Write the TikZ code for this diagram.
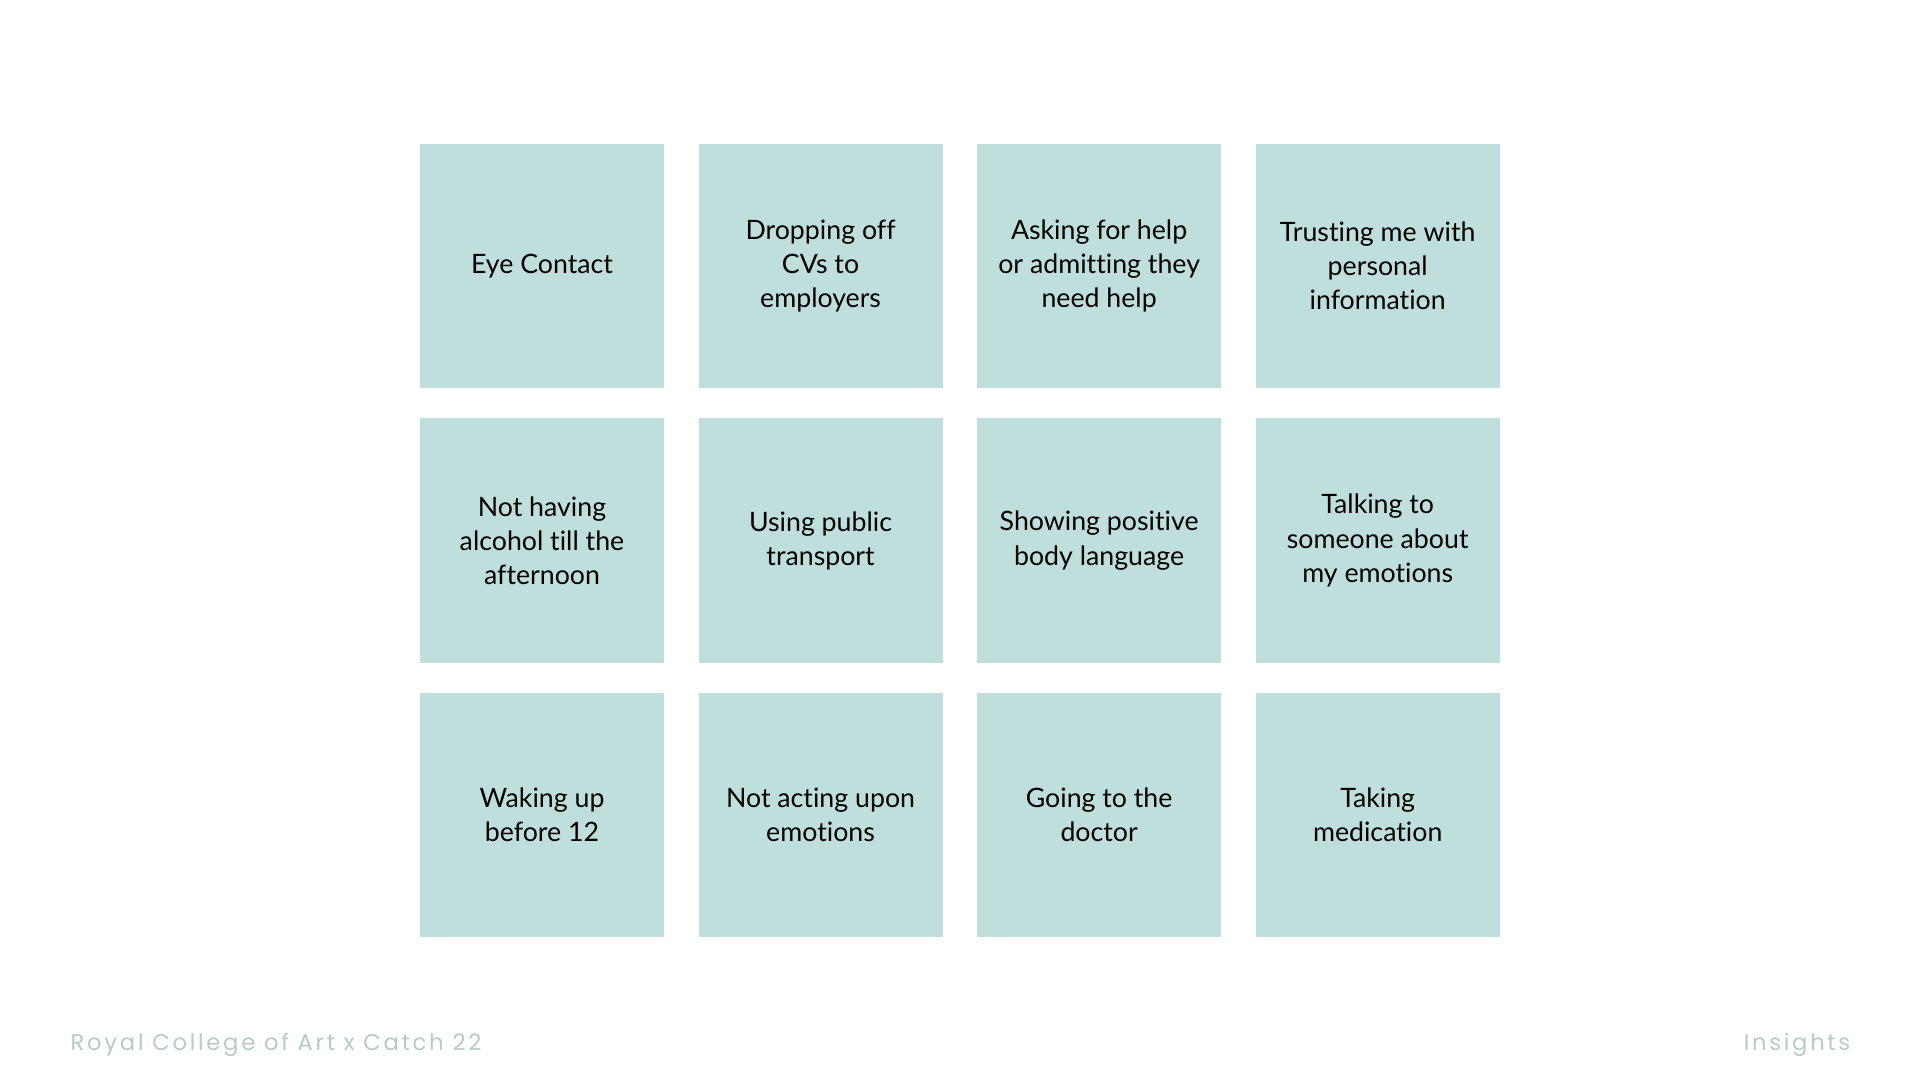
\documentclass[tikz,border=0pt]{standalone}
\usepackage{fontspec}
\setmainfont[Ligatures=NoCommon]{Lato}
\newfontfamily\footfont[LetterSpace=12]{Poppins}
\definecolor{cardteal}{HTML}{BFDFDC}
\definecolor{footgrey}{HTML}{B7CBC9}
\usetikzlibrary{positioning}

\begin{document}
\begin{tikzpicture}[x=0.01cm, y=-0.01cm,
  card/.style={rectangle, fill = cardteal, minimum size = 2.44cm, inner sep = 0pt, font = \fontsize{7.6pt}{9.7pt}\selectfont, align = center},
  footer/.style={text = footgrey, font = \footfont\fontsize{6.45pt}{7pt}\selectfont, inner sep = 0pt}]
\useasboundingbox (0,0) rectangle (1920,1080);
% first row
\node[card] (eye) at (542,266) {Eye Contact};
\node[card, right = 0.33cm of eye] (cvs) {Dropping off\\CVs to\\employers};
\node[card, right = 0.33cm of cvs] (help) {Asking for help\\or admitting they\\need help};
\node[card, right = 0.33cm of help] (trust) {Trusting me with\\personal\\information};
% second row
\node[card, below = 0.29cm of eye] (alcohol) {Not having\\alcohol till the\\afternoon};
\node[card, right = 0.33cm of alcohol] (transport) {Using public\\transport};
\node[card, right = 0.33cm of transport] (body) {Showing positive\\body language};
\node[card, right = 0.33cm of body] (talk) {Talking to\\someone about\\my emotions};
% third row
\node[card, below = 0.29cm of alcohol] (waking) {Waking up\\before 12};
\node[card, right = 0.33cm of waking] (acting) {Not acting upon\\emotions};
\node[card, right = 0.33cm of acting] (doctor) {Going to the\\doctor};
\node[card, right = 0.33cm of doctor] (meds) {Taking\\medication};
% footer
\node[footer, anchor = base west] (rca) at (70,1051) {Royal College of Art x Catch 22};
\node[footer, anchor = base east] (insights) at (1851,1051) {Insights};
\end{tikzpicture}
\end{document}
